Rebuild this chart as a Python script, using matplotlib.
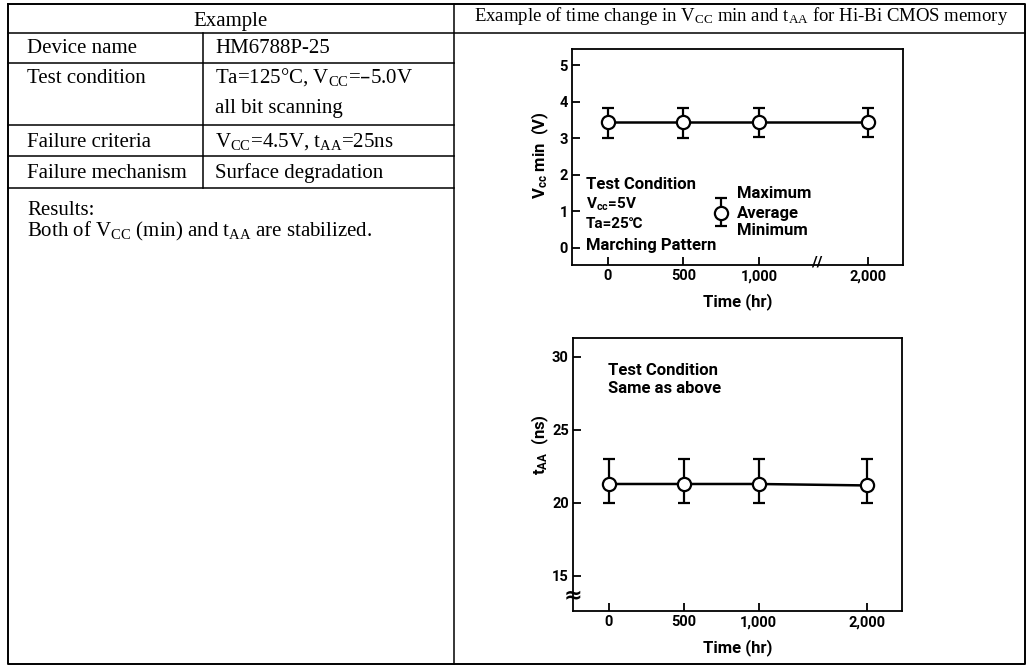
import numpy as np
import matplotlib
matplotlib.use('Agg')
import matplotlib.pyplot as plt
import matplotlib.transforms as mtransforms

# data
hours = [0, 500, 1000, 2000]
hour_labels = ['0', '500', '1,000', '2,000']

vcc_avg = [3.45, 3.45, 3.45, 3.45]
vcc_max = [3.82, 3.83, 3.83, 3.84]
vcc_min = [3.00, 3.02, 3.03, 3.03]

taa_avg = [21.3, 21.3, 21.3, 21.2]
taa_max = [23.0, 23.0, 23.0, 23.0]
taa_min = [20.0, 20.0, 20.0, 20.0]

table_labels = ['Device name', 'Test condition', 'Failure criteria', 'Failure mechanism']
table_values = ['HM6788P-25',
                'Ta=125°C, V$\\mathregular{_{CC}}$=–5.0V\nall bit scanning',
                'V$\\mathregular{_{CC}}$=4.5V, t$\\mathregular{_{AA}}$=25ns',
                'Surface degradation']

SERIF = ['Liberation Serif', 'DejaVu Serif']
SANS = ['Roboto', 'DejaVu Sans']
plt.rcParams['font.family'] = SANS
plt.rcParams['font.weight'] = 'bold'
plt.rcParams['axes.labelweight'] = 'bold'

W, H = 1027, 666
fig = plt.figure(figsize=(W / 100, H / 100), dpi=100)

bg = fig.add_axes([0, 0, 1, 1])
bg.set_xlim(0, W)
bg.set_ylim(H, 0)
bg.axis('off')


def px_axes(l, t, r, b):
    return fig.add_axes([l / W, 1 - b / H, (r - l) / W, (b - t) / H])


# ---- table frame ----
lw = 1.1
bg.plot([8, 1025, 1025, 8, 8], [4, 4, 664, 664, 4], color='black', lw=1.4)
bg.plot([454, 454], [4, 664], color='black', lw=lw)
bg.plot([8, 1025], [32.5, 32.5], color='black', lw=lw)
for yy in [63, 125, 156, 188]:
    bg.plot([8, 454], [yy, yy], color='black', lw=lw)
bg.plot([203, 203], [32.5, 188], color='black', lw=lw)

bg.text(231, 26, 'Example', ha='center', va='baseline', fontsize=15,
        family=SERIF, weight='normal')
bg.text(741, 21, 'Example of time change in V$\\mathregular{_{CC}}$ min and '
        't$\\mathregular{_{AA}}$ for Hi-Bi CMOS memory',
        ha='center', va='baseline', fontsize=13.5, family=SERIF, weight='normal')

row_base = [53, 83, 147, 178]
for lab, val, yb in zip(table_labels, table_values, row_base):
    bg.text(27, yb, lab, ha='left', va='baseline', fontsize=15, family=SERIF,
            weight='normal')
    lines = val.split('\n')
    for i, ln in enumerate(lines):
        bg.text(215, yb + 30 * i, ln, ha='left', va='baseline', fontsize=15,
                family=SERIF, weight='normal')

bg.text(27, 215, 'Results:', ha='left', va='baseline', fontsize=15,
        family=SERIF, weight='normal')
bg.text(27, 236, 'Both of V$\\mathregular{_{CC}}$ (min) and t$\\mathregular{_{AA}}$ '
        'are stabilized.', ha='left', va='baseline', fontsize=15,
        family=SERIF, weight='normal')

# ---- broken time axis: 1000 -> 2000 compressed ----
K = 0.72


def fwd(x):
    x = np.asarray(x, float)
    return np.where(x <= 1000, x, 1000 + (x - 1000) * K)


def inv(y):
    y = np.asarray(y, float)
    return np.where(y <= 1000, y, 1000 + (y - 1000) / K)


def style(ax):
    ax.set_xscale('function', functions=(fwd, inv))
    ax.set_xlim(-238, 2325)
    ax.set_xticks(hours, hour_labels)
    for s in ax.spines.values():
        s.set_linewidth(1.3)
    ax.tick_params(direction='in', length=6, width=1.3, labelsize=10.5, pad=3)
    ax.set_xlabel('Time (hr)', fontsize=12, labelpad=7)


def draw(ax, avg, lo, hi):
    yerr = [np.subtract(avg, lo), np.subtract(hi, avg)]
    ax.errorbar(hours, avg, yerr=yerr, fmt='-o', color='black', lw=1.8,
                ms=9.5, mfc='white', mec='black', mew=1.6, capsize=4,
                capthick=1.6, elinewidth=1.6)


# ---- upper chart: Vcc min ----
ax1 = px_axes(572, 49, 903, 265)
draw(ax1, vcc_avg, vcc_min, vcc_max)
style(ax1)
ax1.set_ylim(-0.47, 5.45)
ax1.set_yticks(range(6))
ax1.set_ylabel('V$\\mathregular{_{cc}}$ min  (V)', fontsize=12)
ax1.yaxis.set_label_coords(-0.062, 0.51)

tx = ax1.transAxes
ax1.text(0.042, 0.352, 'Test Condition', transform=tx, fontsize=12, va='baseline')
ax1.text(0.042, 0.259, 'V$\\mathregular{_{cc}}$=5V', transform=tx, fontsize=11, va='baseline')
ax1.text(0.042, 0.173, 'Ta=25℃', transform=tx, fontsize=11, va='baseline')
ax1.text(0.042, 0.069, 'Marching Pattern', transform=tx, fontsize=12, va='baseline')
ax1.text(0.498, 0.312, 'Maximum', transform=tx, fontsize=12, va='baseline')
ax1.text(0.498, 0.219, 'Average', transform=tx, fontsize=12, va='baseline')
ax1.text(0.498, 0.139, 'Minimum', transform=tx, fontsize=12, va='baseline')
# legend key
ax1.errorbar([0.45], [0.241], yerr=[[0.061], [0.069]], fmt='o', color='black',
             ms=9.5, mfc='white', mec='black', mew=1.6, capsize=4, capthick=1.6,
             elinewidth=1.6, transform=tx, clip_on=False)
ax1.set_ylim(-0.47, 5.45)
ax1.set_xlim(-238, 2325)
# axis break mark
brk = mtransforms.blended_transform_factory(ax1.transData, ax1.transAxes)
ax1.text(1533, 0.01, '//', transform=brk, fontsize=11, ha='center', va='center',
         weight='bold')

# ---- lower chart: tAA ----
ax2 = px_axes(573, 338, 902, 611)
draw(ax2, taa_avg, taa_min, taa_max)
style(ax2)
ax2.set_ylim(12.6, 31.3)
ax2.set_yticks([15, 20, 25, 30])
ax2.set_ylabel('t$\\mathregular{_{AA}}$  (ns)', fontsize=12)
ax2.yaxis.set_label_coords(-0.066, 0.608)
tx2 = ax2.transAxes
ax2.text(0.106, 0.864, 'Test Condition', transform=tx2, fontsize=12, va='baseline')
ax2.text(0.106, 0.799, 'Same as above', transform=tx2, fontsize=12, va='baseline')
brk2 = mtransforms.blended_transform_factory(ax2.transAxes, ax2.transData)
ax2.text(0.0, 13.7, '≈', transform=brk2, fontsize=16, ha='center', va='center',
         family=['DejaVu Sans'], weight='bold')

fig.savefig('out.png', dpi=100)
